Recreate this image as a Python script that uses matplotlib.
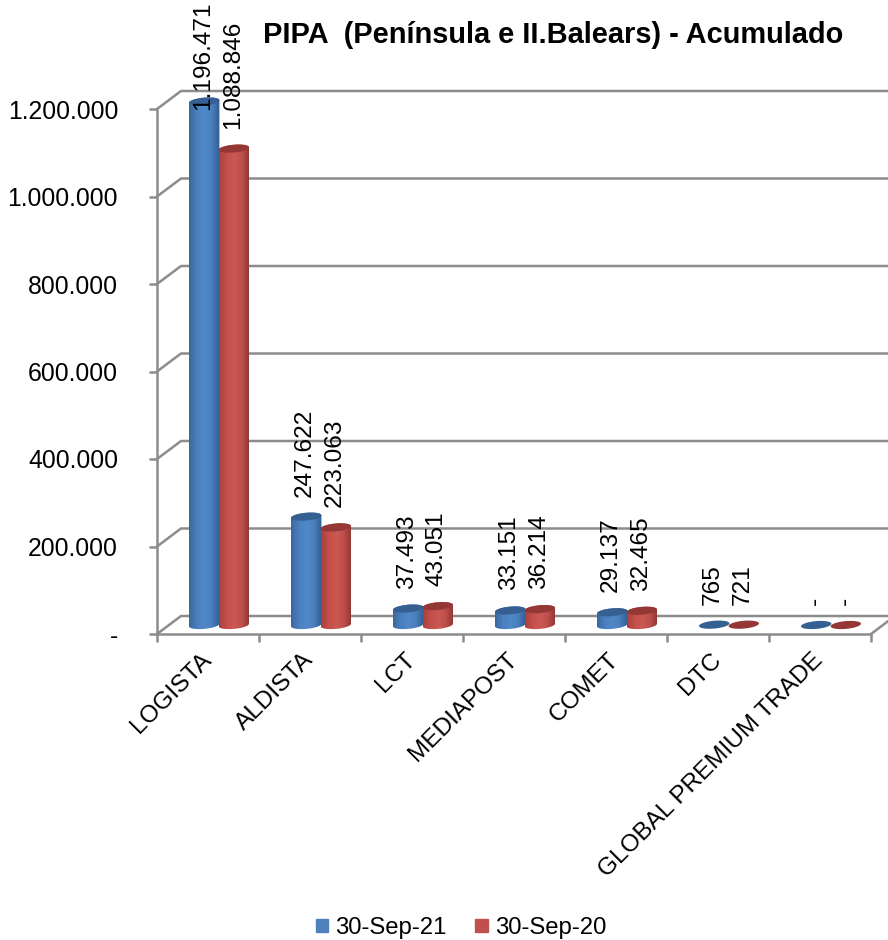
import numpy as np
import matplotlib.pyplot as plt
from matplotlib.colors import LinearSegmentedColormap
from matplotlib.patches import Patch, Polygon

plt.rcParams["font.family"] = ["Liberation Sans", "DejaVu Sans"]

categories = ["LOGISTA", "ALDISTA", "LCT", "MEDIAPOST", "COMET", "DTC", "GLOBAL PREMIUM TRADE"]
sep_21 = [1196471, 247622, 37493, 33151, 29137, 765, 0]
sep_20 = [1088846, 223063, 43051, 36214, 32465, 721, 0]
labels_21 = ["1.196.471", "247.622", "37.493", "33.151", "29.137", "765", "-"]
labels_20 = ["1.088.846", "223.063", "43.051", "36.214", "32.465", "721", "-"]
y_ticks = [0, 200000, 400000, 600000, 800000, 1000000, 1200000]
y_tick_labels = ["-", "200.000", "400.000", "600.000", "800.000", "1.000.000", "1.200.000"]
series_names = ["30-Sep-21", "30-Sep-20"]

GRID = "#8c8c8c"
W, H = 888, 940
LEFT, RIGHT, BOTTOM, TOP = 157, 871, 634, 109

# pixels per data unit, used for the fake 3d depth
sx = (RIGHT - LEFT) / len(categories)
sy = (BOTTOM - TOP) / 1200000


def px(dx, dy):
    return dx / sx, dy / sy


def draw_bar(ax, x, value, base, cmap, top_color):
    # cylinder standing on the floor, shifted back by base
    a, b, k = 15.2, 3.9, 1.3
    t_low = np.linspace(np.pi, 2 * np.pi, 40)
    t_up = np.linspace(0, np.pi, 40)
    t = np.linspace(0, 2 * np.pi, 80)
    top_y = value + base
    if value > 2000:
        bx, by = px(a * np.cos(t_low), b * np.sin(t_low) + k * np.cos(t_low))
        ux, uy = px(a * np.cos(t_up), b * np.sin(t_up) + k * np.cos(t_up))
        verts = np.column_stack([np.r_[x + bx, x + ux], np.r_[base + by, top_y + uy]])
        body = Polygon(verts, closed=True, fc="none", ec="none")
        ax.add_patch(body)
        body.set_clip_on(False)
        half = px(a, 0)[0]
        pad = px(0, 8)[1]
        im = ax.imshow(np.linspace(0, 1, 64).reshape(1, -1), cmap=cmap, aspect="auto",
                       extent=[x - half, x + half, base - pad, top_y + pad], zorder=3)
        im.set_clip_box(ax.figure.bbox)
        im.set_clip_path(body)
        ax.set_xlim(0, len(categories))
        ax.set_ylim(0, 1200000)
    ex, ey = px(a * np.cos(t), b * np.sin(t) + k * np.cos(t))
    ax.fill(x + ex, top_y + ey, color=top_color, lw=0, zorder=4, clip_on=False)


def main():
    fig = plt.figure(figsize=(W / 100, H / 100), dpi=100)
    ax = fig.add_axes([LEFT / W, 1 - BOTTOM / H, (RIGHT - LEFT) / W, (BOTTOM - TOP) / H])
    ax.set_xlim(0, len(categories))
    ax.set_ylim(0, 1200000)

    ax.spines[["top", "right"]].set_visible(False)
    ax.spines[["left", "bottom"]].set_color(GRID)
    ax.spines[["left", "bottom"]].set_linewidth(1.8)

    ax.set_yticks(y_ticks, y_tick_labels, fontsize=17.8)
    ax.tick_params(axis="y", color=GRID, width=1.8, length=6, pad=22)
    ax.set_xticks(np.arange(len(categories) + 1), [""] * (len(categories) + 1))
    ax.tick_params(axis="x", color=GRID, width=1.8, length=6)

    # side wall and back wall gridlines
    dx, dy = px(24, 18)
    for v in y_ticks:
        ax.plot([0, dx, 8], [v, v + dy, v + dy], color=GRID, lw=1.8, clip_on=False, zorder=1)
    ax.plot([len(categories), len(categories) + dx], [0, dy], color=GRID, lw=1.8, clip_on=False, zorder=1)

    blue = LinearSegmentedColormap.from_list("b", ["#3a689f", "#4a80c0", "#5088c8", "#4a7fbd", "#2f5d90"])
    red = LinearSegmentedColormap.from_list("r", ["#a8403d", "#c4504c", "#cc5854", "#bd4e4a", "#8c3532"])

    ox, oy = px(11, 9)
    half = px(14.8, 0)[0]
    for i, name in enumerate(categories):
        c = i + 0.5 + ox
        for x, v, cmap, top, txt in ((c - half, sep_21[i], blue, "#376092", labels_21[i]),
                                     (c + half, sep_20[i], red, "#953735", labels_20[i])):
            draw_bar(ax, x, v, oy, cmap, top)
            pos = v + oy + px(0, 20)[1]
            # the tallest label is pushed down so it stays inside the picture
            pos = min(pos, px(0, BOTTOM - 108)[1] - px(0, 2)[1])
            ax.text(x - px(1, 0)[0], pos, txt, rotation=90, ha="center", va="bottom",
                    fontsize=17.6, clip_on=False, zorder=6)
        ax.text(i + 0.5 - px(8, 0)[0], -px(0, 15)[1], name, rotation=45, ha="right", va="top",
                rotation_mode="anchor", fontsize=17.6, clip_on=False)

    fig.text(553 / W, 1 - 35 / H, "PIPA  (Península e II.Balears) - Acumulado", ha="center", va="center",
             fontsize=20.9, fontweight="bold")

    handles = [Patch(color="#4f81bd", label=series_names[0]), Patch(color="#c0504d", label=series_names[1])]
    fig.legend(handles=handles, loc="center", bbox_to_anchor=(461 / W, 1 - 928 / H), ncol=2, frameon=False,
               fontsize=17.2, handlelength=0.52, handleheight=0.52, handletextpad=0.3, columnspacing=1.2)

    fig.savefig("out.png", dpi=100)


if __name__ == "__main__":
    main()
